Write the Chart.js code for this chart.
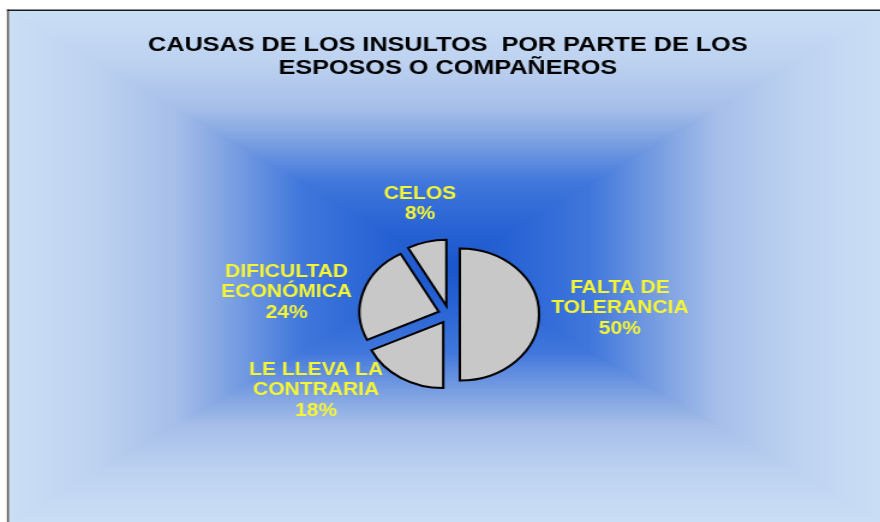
<!DOCTYPE html>
<html>
<head>
<meta charset="utf-8">
<script src="https://cdn.jsdelivr.net/npm/chart.js@4.4.1/dist/chart.umd.min.js"></script>
<style>
  html, body { margin: 0; padding: 0; background: #ffffff; overflow: hidden; }
  #wrap { position: absolute; left: 0; top: 0; width: 733px; height: 522px;
          transform: scaleX(1.2006); transform-origin: 0 0; }
</style>
</head>
<body>
<div id="wrap"><canvas id="c"></canvas></div>
<script>
// ---- data ----
const titleLines = ['CAUSAS DE LOS INSULTOS  POR PARTE DE LOS', 'ESPOSOS O COMPAÑEROS'];
const categories = ['FALTA DE TOLERANCIA', 'LE LLEVA LA CONTRARIA', 'DIFICULTAD ECONÓMICA', 'CELOS'];
const categoryLines = [['FALTA DE', 'TOLERANCIA'], ['LE LLEVA LA', 'CONTRARIA'], ['DIFICULTAD', 'ECONÓMICA'], ['CELOS']];
const values = [50, 18, 24, 8];

// ---- style ----
const SLICE_FILL = '#c8c8c8';
const SLICE_BORDER = '#000000';
const EXPLODE = 9;
const LABEL_COLOR = '#f6f635';
const LABEL_FONT = 'bold 17.5px "Liberation Sans", Arial, sans-serif';
const LABEL_LINE_H = 20.5;
// label placement: distance as multiple of radius, angular nudge (deg, clockwise)
const labelPlace = [
  { k: 2.16, dAng: -3 },
  { k: 2.02, dAng: 23.7 },
  { k: 2.08, dAng: -8.1 },
  { k: 1.73, dAng: 2.2 }
];
const TITLE_FONT = 'bold 21px "Liberation Sans", Arial, sans-serif';
const TITLE_CAP_CENTERS = [43.5, 66];

const gradStops = [
  [0.00, [26, 86, 204]],
  [0.15, [40, 99, 212]],
  [0.33, [64, 119, 220]],
  [0.50, [126, 162, 226]],
  [0.62, [166, 190, 233]],
  [0.80, [189, 210, 240]],
  [1.00, [202, 222, 245]]
];
function gradColor(t) {
  for (let i = 1; i < gradStops.length; i++) {
    if (t <= gradStops[i][0]) {
      const a = gradStops[i - 1], b = gradStops[i];
      const f = (t - a[0]) / (b[0] - a[0]);
      return [0, 1, 2].map(j => a[1][j] + (b[1][j] - a[1][j]) * f);
    }
  }
  return gradStops[gradStops.length - 1][1];
}

const backgroundPlugin = {
  id: 'bgFrame',
  beforeDraw(chart) {
    const ctx = chart.ctx;
    const W = chart.width, H = chart.height;
    const L = 7.5, T = 11;
    const w = Math.round(W - L), h = Math.round(H - T);
    const img = ctx.createImageData(w, h);
    const cx = w / 2, cy = h / 2;
    for (let y = 0; y < h; y++) {
      for (let x = 0; x < w; x++) {
        const t = Math.min(1, Math.max(Math.abs(x - cx) / cx, Math.abs(y - cy) / cy));
        const c = gradColor(t);
        const idx = (y * w + x) * 4;
        img.data[idx] = c[0]; img.data[idx + 1] = c[1]; img.data[idx + 2] = c[2]; img.data[idx + 3] = 255;
      }
    }
    ctx.save();
    ctx.fillStyle = '#ffffff';
    ctx.fillRect(0, 0, W, H);
    ctx.putImageData(img, Math.round(L), T);
    ctx.fillStyle = '#555555';
    ctx.fillRect(5.8, 9.5, 1.7, H);
    ctx.fillStyle = '#1a1a1a';
    ctx.fillRect(5.8, 9.5, W, 1.5);
    ctx.restore();
  }
};

const explodePlugin = {
  id: 'explodeSlices',
  beforeDatasetDraw(chart, args) {
    const ctx = chart.ctx;
    args.meta.data.forEach(arc => {
      const mid = (arc.startAngle + arc.endAngle) / 2;
      ctx.save();
      ctx.translate(Math.cos(mid) * EXPLODE, Math.sin(mid) * EXPLODE);
      arc.draw(ctx);
      ctx.restore();
    });
    return false;
  }
};

const textPlugin = {
  id: 'texts',
  afterDraw(chart) {
    const ctx = chart.ctx;
    const meta = chart.getDatasetMeta(0);
    const total = values.reduce((a, b) => a + b, 0);
    ctx.save();
    // title
    ctx.font = TITLE_FONT;
    ctx.fillStyle = '#000000';
    ctx.textAlign = 'center';
    ctx.textBaseline = 'alphabetic';
    const tx = (chart.chartArea.left + chart.chartArea.right) / 2 - 1;
    titleLines.forEach((ln, i) => ctx.fillText(ln, tx, TITLE_CAP_CENTERS[i] + 21 * 0.358));
    // slice labels
    ctx.font = LABEL_FONT;
    ctx.fillStyle = LABEL_COLOR;
    meta.data.forEach((arc, i) => {
      const mid = (arc.startAngle + arc.endAngle) / 2 + labelPlace[i].dAng * Math.PI / 180;
      const d = arc.outerRadius * labelPlace[i].k;
      const lx = arc.x + Math.cos(mid) * d;
      const ly = arc.y + Math.sin(mid) * d;
      const lines = categoryLines[i].concat([Math.round(values[i] / total * 100) + '%']);
      const y0 = ly - (lines.length - 1) / 2 * LABEL_LINE_H;
      lines.forEach((ln, j) => ctx.fillText(ln, lx, y0 + j * LABEL_LINE_H + 17.5 * 0.358));
    });
    ctx.restore();
  }
};

new Chart(document.getElementById('c'), {
  type: 'pie',
  data: {
    labels: categories,
    datasets: [{
      data: values,
      backgroundColor: SLICE_FILL,
      borderColor: SLICE_BORDER,
      borderWidth: 2,
      borderJoinStyle: 'miter',
      radius: 66
    }]
  },
  options: {
    responsive: true,
    maintainAspectRatio: false,
    animation: false,
    layout: { padding: { top: 150, bottom: 43, left: 115, right: 100 } },
    plugins: { legend: { display: false }, tooltip: { enabled: false }, title: { display: false } }
  },
  plugins: [backgroundPlugin, explodePlugin, textPlugin]
});
</script>
</body>
</html>
